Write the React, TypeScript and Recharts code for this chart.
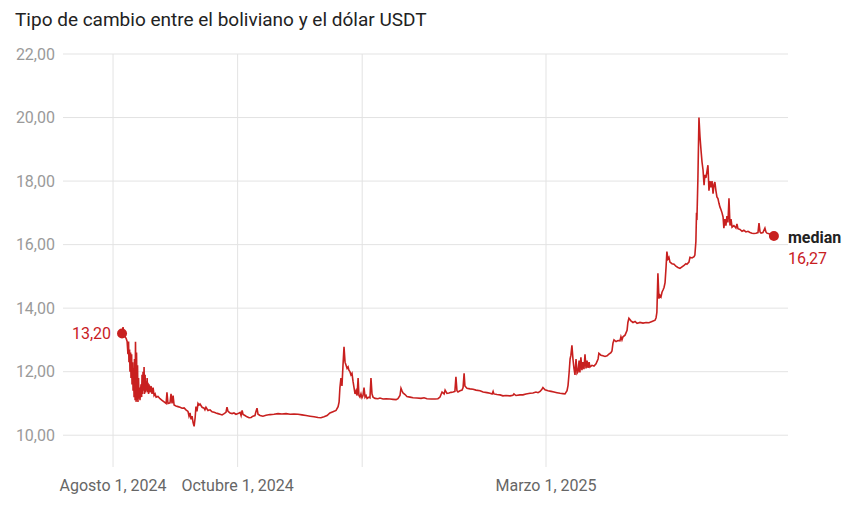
import React from "react";
import { LineChart, Line, XAxis, YAxis, CartesianGrid } from "recharts";

// Days since 2024-08-01
const fechaInicio = "2024-08-01";
const dias = [
  4.4, 4.9, 5.4, 5.9, 6.4, 6.9, 7.3, 7.6, 7.8, 8.1,
  8.3, 8.6, 8.8, 9.1, 9.3, 9.6, 9.8, 10.0, 10.3, 10.5,
  10.8, 11.0, 11.3, 11.5, 11.8, 12.0, 12.2, 12.5, 12.7, 13.0,
  13.2, 13.7, 14.0, 14.2, 14.4, 14.7, 14.9, 15.2, 15.4, 15.7,
  15.9, 16.2, 16.4, 16.7, 16.9, 17.1, 17.4, 17.6, 18.1, 18.6,
  19.1, 19.6, 20.1, 20.6, 21.1, 22.0, 23.0, 24.0, 25.0, 26.0,
  26.4, 26.9, 27.9, 28.4, 28.9, 29.4, 29.9, 30.8, 31.8, 32.8,
  33.8, 34.8, 35.7, 36.7, 37.2, 37.7, 38.2, 38.7, 39.2, 39.7,
  40.2, 40.6, 41.1, 41.6, 42.1, 42.6, 43.6, 44.6, 45.0, 45.5,
  46.5, 47.5, 48.5, 49.5, 50.4, 51.4, 52.4, 53.4, 54.4, 55.3,
  55.8, 56.3, 57.3, 58.3, 59.2, 60.2, 61.2, 62.2, 62.7, 63.2,
  63.7, 64.6, 65.6, 66.6, 67.6, 68.5, 69.5, 70.0, 70.5, 71.0,
  72.0, 73.4, 74.9, 76.9, 78.8, 80.8, 82.7, 84.7, 86.7, 88.6,
  90.6, 92.5, 94.5, 96.5, 98.4, 100.4, 101.8, 103.3, 104.8, 106.2,
  107.7, 109.2, 110.2, 110.7, 111.1, 111.6, 112.1, 112.6, 113.1, 113.6,
  114.1, 114.6, 115.1, 115.5, 116.0, 116.5, 117.0, 117.5, 118.0, 118.5,
  119.0, 119.5, 120.0, 120.4, 120.9, 121.4, 121.9, 122.4, 122.9, 123.4,
  123.9, 124.4, 125.3, 125.8, 126.3, 126.8, 127.3, 128.3, 129.7, 130.7,
  132.2, 133.7, 135.6, 137.1, 138.6, 139.5, 140.5, 141.0, 141.5, 142.0,
  143.0, 143.9, 145.4, 146.9, 148.8, 150.8, 152.3, 153.7, 155.7, 157.7,
  159.1, 160.1, 161.1, 162.1, 162.6, 163.5, 164.5, 165.5, 166.5, 167.4,
  167.9, 168.4, 168.9, 169.9, 170.9, 171.4, 171.9, 172.3, 173.3, 174.8,
  176.3, 177.7, 179.7, 181.2, 183.1, 184.6, 185.6, 186.1, 186.5, 188.0,
  189.5, 190.9, 192.4, 194.4, 195.8, 196.3, 197.3, 199.3, 200.7, 202.2,
  204.2, 205.6, 207.1, 208.1, 209.1, 210.0, 210.5, 211.5, 213.0, 214.5,
  215.9, 217.4, 218.9, 220.3, 221.3, 222.3, 222.8, 223.3, 223.8, 224.2,
  224.7, 225.2, 225.7, 226.2, 226.7, 227.2, 227.7, 228.2, 228.6, 229.1,
  229.6, 230.1, 230.6, 231.1, 231.6, 232.1, 232.6, 233.1, 233.5, 234.5,
  235.5, 236.5, 237.5, 237.9, 238.9, 239.9, 240.9, 241.9, 242.8, 243.8,
  244.3, 244.8, 245.3, 246.3, 247.3, 248.2, 248.7, 249.2, 249.7, 250.7,
  251.7, 252.1, 252.6, 253.6, 254.6, 255.6, 256.6, 258.0, 259.5, 261.0,
  262.4, 263.9, 265.4, 265.9, 266.3, 266.8, 267.3, 267.8, 268.3, 268.8,
  269.3, 269.8, 270.3, 270.8, 271.2, 271.7, 272.2, 272.7, 273.7, 274.7,
  275.6, 276.6, 277.6, 278.6, 279.6, 280.5, 281.0, 282.0, 282.5, 283.5,
  284.5, 284.9, 285.4, 285.7, 285.9, 286.4, 286.9, 287.4, 287.9, 288.4,
  288.9, 289.4, 289.8, 290.3, 290.8, 291.3, 291.8, 292.3, 292.8, 293.3,
  293.8, 294.3, 294.7, 295.2, 295.7, 296.2, 296.7, 297.2, 297.7, 298.2,
  298.7, 299.1, 299.6, 300.1, 300.6, 301.1, 301.6, 302.1, 302.6, 303.1,
  304.0, 305.0, 305.5, 306.0, 307.0, 308.0, 308.9, 309.9, 310.9, 311.9,
  312.9, 313.8, 314.8, 315.8, 316.3, 316.8, 317.3, 318.2, 319.2, 319.7,
  320.2, 321.2, 322.2, 323.1, 323.6,
];

const valores = [
  13.20, 13.40, 13.12, 13.10, 13.05, 12.95, 12.55, 12.95, 12.30, 12.70,
  12.00, 12.60, 11.80, 12.55, 11.60, 12.30, 11.40, 12.10, 11.20, 12.40,
  11.10, 12.94, 11.05, 12.60, 11.10, 12.20, 11.05, 11.80, 11.15, 11.50,
  11.10, 11.60, 11.20, 11.90, 11.30, 12.00, 11.40, 12.15, 11.30, 11.90,
  11.35, 11.70, 11.40, 11.80, 11.35, 11.65, 11.30, 11.60, 11.35, 11.55,
  11.30, 11.50, 11.25, 11.30, 11.20, 11.22, 11.15, 11.10, 11.05, 11.00,
  11.35, 11.00, 11.02, 11.30, 11.00, 11.25, 10.95, 10.92, 10.90, 10.88,
  10.85, 10.86, 10.80, 10.75, 10.60, 10.70, 10.50, 10.60, 10.40, 10.28,
  10.55, 10.90, 10.75, 11.00, 10.95, 10.98, 10.88, 10.85, 10.80, 10.88,
  10.78, 10.80, 10.74, 10.72, 10.70, 10.68, 10.66, 10.64, 10.68, 10.72,
  10.88, 10.75, 10.70, 10.68, 10.70, 10.66, 10.68, 10.72, 10.62, 10.78,
  10.65, 10.62, 10.58, 10.55, 10.56, 10.60, 10.62, 10.75, 10.85, 10.66,
  10.62, 10.60, 10.63, 10.65, 10.66, 10.68, 10.67, 10.68, 10.66, 10.67,
  10.66, 10.64, 10.62, 10.60, 10.58, 10.56, 10.55, 10.58, 10.62, 10.70,
  10.74, 10.78, 10.90, 11.05, 11.50, 11.80, 11.55, 12.20, 12.78, 12.30,
  12.20, 12.10, 12.15, 12.05, 12.00, 11.90, 11.95, 11.70, 11.50, 11.30,
  11.40, 11.25, 11.80, 11.25, 11.20, 11.30, 11.18, 11.25, 11.50, 11.20,
  11.25, 11.16, 11.20, 11.18, 11.80, 11.30, 11.20, 11.16, 11.15, 11.17,
  11.14, 11.15, 11.14, 11.13, 11.12, 11.15, 11.25, 11.48, 11.40, 11.33,
  11.28, 11.22, 11.20, 11.18, 11.17, 11.16, 11.18, 11.15, 11.14, 11.14,
  11.15, 11.20, 11.36, 11.30, 11.42, 11.32, 11.33, 11.35, 11.36, 11.38,
  11.84, 11.40, 11.36, 11.40, 11.42, 11.50, 11.95, 11.55, 11.48, 11.46,
  11.45, 11.42, 11.40, 11.36, 11.34, 11.32, 11.30, 11.38, 11.30, 11.28,
  11.27, 11.24, 11.25, 11.24, 11.26, 11.30, 11.25, 11.27, 11.27, 11.30,
  11.32, 11.33, 11.36, 11.34, 11.38, 11.45, 11.50, 11.43, 11.40, 11.38,
  11.36, 11.34, 11.32, 11.31, 11.30, 11.40, 11.57, 11.95, 12.40, 12.52,
  12.83, 12.40, 12.10, 11.90, 12.40, 11.95, 12.00, 12.35, 11.98, 12.45,
  12.05, 12.30, 12.08, 12.55, 12.10, 12.35, 12.12, 12.30, 12.15, 12.20,
  12.18, 12.25, 12.40, 12.58, 12.52, 12.50, 12.48, 12.50, 12.55, 12.60,
  12.65, 12.90, 13.00, 12.95, 12.98, 12.97, 13.10, 13.00, 13.10, 13.15,
  13.30, 13.55, 13.68, 13.60, 13.55, 13.58, 13.52, 13.55, 13.53, 13.55,
  13.54, 13.58, 13.62, 13.70, 13.87, 15.10, 14.30, 14.40, 14.35, 14.50,
  14.57, 14.65, 14.80, 15.30, 15.78, 15.55, 15.60, 15.45, 15.40, 15.38,
  15.32, 15.28, 15.25, 15.30, 15.35, 15.40, 15.38, 15.45, 15.60, 15.58,
  15.62, 15.67, 16.10, 17.00, 16.77, 18.13, 20.00, 19.40, 18.98, 18.60,
  18.35, 17.87, 18.20, 18.10, 18.30, 18.50, 17.70, 18.00, 17.80, 18.00,
  17.60, 17.90, 17.97, 17.70, 17.50, 17.45, 17.30, 17.18, 17.10, 17.00,
  16.87, 16.52, 16.80, 16.60, 16.90, 16.70, 17.46, 16.60, 16.80, 16.55,
  16.60, 16.52, 16.65, 16.50, 16.48, 16.42, 16.45, 16.40, 16.42, 16.38,
  16.36, 16.35, 16.36, 16.38, 16.68, 16.40, 16.36, 16.38, 16.52, 16.40,
  16.36, 16.34, 16.32, 16.30, 16.27,
];

const tickDias = [0, 61, 122, 212];
const tickEtiquetas = ["Agosto 1, 2024", "Octubre 1, 2024", "", "Marzo 1, 2025"];
const yTicks = [10, 12, 14, 16, 18, 20, 22];
const titulo = "Tipo de cambio entre el boliviano y el dólar USDT";
const etiquetaFinal = "median";

const RED = "#c8201f";
const fmt = (v: number) => v.toFixed(2).replace(".", ",");

const data = dias.map((d, i) => ({ dia: d, valor: valores[i] }));
const last = data.length - 1;

const renderDot = (props: any) => {
  const { cx, cy, index } = props;
  if (index === 0) {
    return (
      <g key="start">
        <circle cx={cx} cy={cy} r={5} fill={RED} />
        <text x={cx - 11} y={cy} dy="0.35em" textAnchor="end" fill={RED} fontSize={16}>
          {fmt(valores[0])}
        </text>
      </g>
    );
  }
  if (index === last) {
    return (
      <g key="end">
        <circle cx={cx} cy={cy} r={5} fill={RED} />
        <text x={cx + 14} y={cy + 1} dy="0.35em" textAnchor="start" fill="#222" fontSize={16} fontWeight={700}>
          {etiquetaFinal}
        </text>
        <text x={cx + 14} y={cy + 22} dy="0.35em" textAnchor="start" fill={RED} fontSize={16}>
          {fmt(valores[last])}
        </text>
      </g>
    );
  }
  return <g key={`d${index}`} />;
};

export default function App() {
  return (
    <div style={{ position: "absolute", left: 0, top: 0, width: 852, height: 506, background: "#fff", fontFamily: "Roboto, sans-serif" }}>
      <div style={{ position: "absolute", left: 15, top: 9, fontSize: 19, lineHeight: "22px", color: "#222", whiteSpace: "nowrap" }}>
        {titulo}
      </div>
      <LineChart width={852} height={506} data={data} margin={{ top: 54, right: 64, bottom: 0, left: 0 }}>
        <CartesianGrid stroke="#e3e3e3" strokeWidth={1} syncWithTicks />
        <XAxis
          dataKey="dia"
          type="number"
          domain={[-24.5, 330.5]}
          ticks={tickDias}
          interval={0}
          tickFormatter={(v: number) => tickEtiquetas[tickDias.indexOf(v)] ?? ""}
          axisLine={false}
          tickLine={false}
          tickSize={0}
          tickMargin={13}
          height={39}
          tick={{ fill: "#666", fontSize: 16 }}
        />
        <YAxis
          type="number"
          domain={[9, 22]}
          ticks={yTicks}
          interval={0}
          tickFormatter={(v: number) => fmt(v)}
          axisLine={false}
          tickLine={false}
          tickSize={0}
          tickMargin={8}
          width={63}
          tick={{ fill: "#9a9a9a", fontSize: 16 }}
        />
        <Line
          type="linear"
          dataKey="valor"
          stroke={RED}
          strokeWidth={1.6}
          dot={renderDot}
          activeDot={false}
          isAnimationActive={false}
        />
      </LineChart>
    </div>
  );
}
